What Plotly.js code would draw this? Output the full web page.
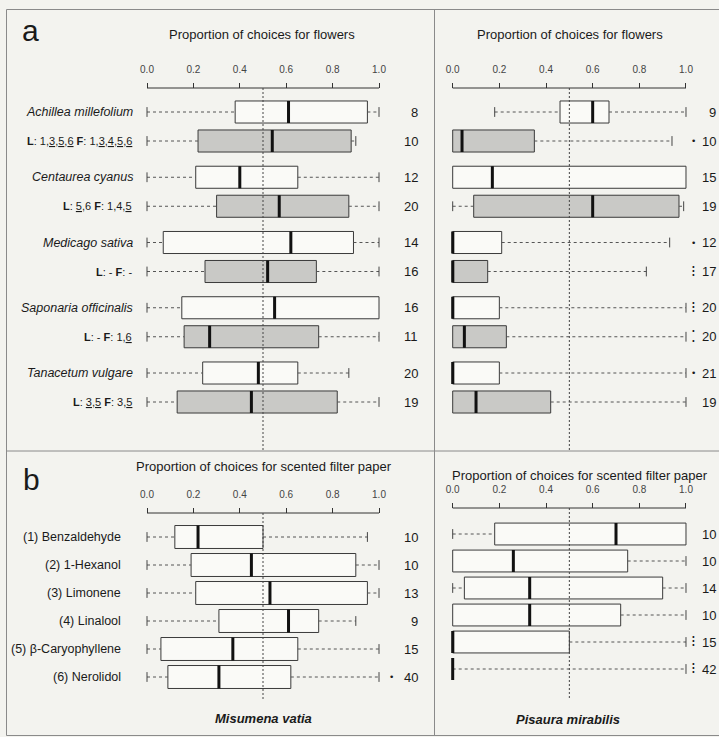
<!DOCTYPE html>
<html>
<head>
<meta charset="utf-8">
<script src="https://cdn.plot.ly/plotly-3.0.1.min.js"></script>
<style>html,body{margin:0;padding:0;background:#f3f3ef;}#chart{width:719px;height:737px;}</style>
</head>
<body>
<div id="chart"></div>
<script>
// ---------- DATA ----------
const ticks = [0, 0.2, 0.4, 0.6, 0.8, 1.0];
const tickLabels = ['0.0', '0.2', '0.4', '0.6', '0.8', '1.0'];
const chance = 0.5;

const flowerNames = ['Achillea millefolium', 'Centaurea cyanus', 'Medicago sativa', 'Saponaria officinalis', 'Tanacetum vulgare'];
const flowerPrefs = [
  '<b>L</b>: 1,<u>3</u>,<u>5</u>,<u>6</u> <b>F</b>: 1,<u>3</u>,<u>4</u>,<u>5</u>,<u>6</u>',
  '<b>L</b>: <u>5</u>,6 <b>F</b>: 1,4,<u>5</u>',
  '<b>L</b>: - <b>F</b>: -',
  '<b>L</b>: - <b>F</b>: 1,<u>6</u>',
  '<b>L</b>: <u>3</u>,<u>5</u> <b>F</b>: 3,<u>5</u>'
];
// five-number summaries: [lower whisker, Q1, median, Q3, upper whisker]
const mvFlowerStats = [[0, 0.38, 0.61, 0.95, 1.0], [0, 0.21, 0.40, 0.65, 1.0], [0, 0.07, 0.62, 0.89, 1.0], [0, 0.15, 0.55, 1.0, 1.0], [0, 0.24, 0.48, 0.65, 0.87]];
const mvPrefStats   = [[0, 0.22, 0.54, 0.88, 0.90], [0, 0.30, 0.57, 0.87, 1.0], [0, 0.25, 0.52, 0.73, 1.0], [0, 0.16, 0.27, 0.74, 1.0], [0, 0.13, 0.45, 0.82, 1.0]];
const mvFlowerN = [8, 12, 14, 16, 20];
const mvPrefN = [10, 20, 16, 11, 19];

const pmFlowerStats = [[0.18, 0.46, 0.60, 0.67, 1.0], [0, 0, 0.17, 1.0, 1.0], [0, 0, 0, 0.21, 0.93], [0, 0, 0, 0.20, 1.0], [0, 0, 0, 0.20, 1.0]];
const pmPrefStats   = [[0, 0, 0.04, 0.35, 0.94], [0, 0.09, 0.60, 0.97, 0.99], [0, 0, 0, 0.15, 0.83], [0, 0, 0.05, 0.23, 1.0], [0, 0, 0.10, 0.42, 1.0]];
const pmFlowerN = [9, 15, 12, 20, 21];
const pmPrefN = [10, 19, 17, 20, 19];
const pmFlowerSig = [0, 0, 1, 3, 1];
const pmPrefSig = [1, 0, 3, 2, 0];

const scentNames = ['(1) Benzaldehyde', '(2) 1-Hexanol', '(3) Limonene', '(4) Linalool', '(5) β-Caryophyllene', '(6) Nerolidol'];
const mvScentStats = [[0, 0.12, 0.22, 0.50, 0.95], [0, 0.19, 0.45, 0.90, 1.0], [0, 0.21, 0.53, 0.95, 1.0], [0, 0.31, 0.61, 0.74, 0.90], [0, 0.06, 0.37, 0.65, 1.0], [0, 0.09, 0.31, 0.62, 1.0]];
const mvScentN = [10, 10, 13, 9, 15, 40];
const mvScentSig = [0, 0, 0, 0, 0, 1];
const pmScentStats = [[0, 0.18, 0.70, 1.0, 1.0], [0, 0, 0.26, 0.75, 1.0], [0, 0.05, 0.33, 0.90, 1.0], [0, 0, 0.33, 0.72, 1.0], [0, 0, 0, 0.50, 1.0], [0, 0, 0, 0, 1.0]];
const pmScentN = [10, 10, 14, 10, 15, 42];
const pmScentSig = [0, 0, 0, 0, 3, 3];

// ---------- STYLE / LAYOUT ----------
const W = 719, H = 737;
const FONT = '"Liberation Sans", Arial, sans-serif';
const BG = '#f3f3ef';
const WHITE_FILL = '#fafaf7';
const GRAY_FILL = '#c9c9c6';
const sigChar = ['', '•', '⁚', '⁝'];
const sigSize = [0, 9, 15, 15];
const px = v => v / W;
const py = v => 1 - v / H;

const traces = [];
const annotations = [];
const shapes = [];

function addPanel(xa, ya, bw, rows) {
  [WHITE_FILL, GRAY_FILL].forEach(f => {
    const rr = rows.filter(r => r.fill === f);
    if (!rr.length) return;
    traces.push({
      type: 'box', orientation: 'h', xaxis: xa, yaxis: ya,
      y: rr.map(r => r.pos),
      q1: rr.map(r => r.s[1]), median: rr.map(r => r.s[2]), q3: rr.map(r => r.s[3]),
      lowerfence: rr.map(r => r.s[1]), upperfence: rr.map(r => r.s[3]),
      width: bw, fillcolor: f, line: {color: '#3a3a3a', width: 1},
      whiskerwidth: 0, boxpoints: false, hoverinfo: 'skip', showlegend: false
    });
  });
  const wx = [], wy = [], cx = [], cy = [], mx = [], my = [];
  rows.forEach(r => {
    const [lf, q1, md, q3, uf] = r.s;
    if (lf < q1) { wx.push(lf, q1, null); wy.push(r.pos, r.pos, null); cx.push(lf); cy.push(r.pos); }
    if (uf > q3) { wx.push(q3, uf, null); wy.push(r.pos, r.pos, null); cx.push(uf); cy.push(r.pos); }
    mx.push(md, md, null); my.push(r.pos - bw / 2, r.pos + bw / 2, null);
  });
  traces.push({type: 'scatter', mode: 'lines', xaxis: xa, yaxis: ya, x: wx, y: wy,
    line: {color: '#555', width: 1, dash: '3px,3px'}, hoverinfo: 'skip', showlegend: false, cliponaxis: false});
  traces.push({type: 'scatter', mode: 'markers', xaxis: xa, yaxis: ya, x: cx, y: cy,
    marker: {symbol: 'line-ns', size: 7, color: '#444', line: {width: 1, color: '#444'}},
    hoverinfo: 'skip', showlegend: false, cliponaxis: false});
  traces.push({type: 'scatter', mode: 'lines', xaxis: xa, yaxis: ya, x: mx, y: my,
    line: {color: '#111', width: 3}, hoverinfo: 'skip', showlegend: false, cliponaxis: false});
}

const PAIR = 2.25;
function flowerRows(whiteStats, grayStats) {
  const rows = [];
  whiteStats.forEach((s, i) => rows.push({pos: i * PAIR, s: s, fill: WHITE_FILL}));
  grayStats.forEach((s, i) => rows.push({pos: i * PAIR + 1, s: s, fill: GRAY_FILL}));
  return rows;
}
function scentRows(stats) { return stats.map((s, i) => ({pos: i, s: s, fill: WHITE_FILL})); }

addPanel('x', 'y', 0.76, flowerRows(mvFlowerStats, mvPrefStats));
addPanel('x2', 'y2', 0.76, flowerRows(pmFlowerStats, pmPrefStats));
addPanel('x3', 'y3', 0.82, scentRows(mvScentStats));
addPanel('x4', 'y4', 0.81, scentRows(pmScentStats));

const LX0 = 147, LX1 = 379, RX0 = 452.7, RX1 = 686;
const PAD = 0.04;
function xdom(a, b) { const w = b - a; return [px(a - PAD * w), px(b + PAD * w)]; }
function xaxisDef(a, b, basePx) {
  return {domain: xdom(a, b), range: [-PAD, 1 + PAD], anchor: 'free', position: py(basePx), side: 'top',
    tickvals: ticks, ticktext: tickLabels, ticks: 'outside', ticklen: 5, tickwidth: 1, tickcolor: '#333',
    showline: false, showgrid: false, zeroline: false, ticklabelstandoff: 6,
    tickfont: {family: FONT, size: 10, color: '#444'}, fixedrange: true};
}
const BASE_A = 88, BASE_BL = 513, BASE_BR = 508;

function axisDecor(xr, basePx, endPx) {
  shapes.push({type: 'line', xref: xr, yref: 'paper', x0: ticks[0], x1: ticks[ticks.length - 1], y0: py(basePx), y1: py(basePx), line: {color: '#333', width: 1}});
  shapes.push({type: 'line', xref: xr, yref: 'paper', x0: chance, x1: chance, y0: py(basePx), y1: py(endPx), line: {color: '#444', width: 1, dash: '2px,2px'}});
}
axisDecor('x', BASE_A, 451);
axisDecor('x2', BASE_A, 451);
axisDecor('x3', BASE_BL, 700);
axisDecor('x4', BASE_BR, 698);

const frameLine = {color: '#8a8a8a', width: 1};
shapes.push({type: 'rect', xref: 'paper', yref: 'paper', x0: px(6.5), x1: px(722), y0: py(9.5), y1: py(735.5), line: frameLine});
shapes.push({type: 'line', xref: 'paper', yref: 'paper', x0: px(434.5), x1: px(434.5), y0: py(9.5), y1: py(735.5), line: frameLine});
shapes.push({type: 'line', xref: 'paper', yref: 'paper', x0: px(6.5), x1: px(722), y0: py(451), y1: py(451), line: frameLine});

function txt(text, xp, yref, yv, anchor, size, family) {
  annotations.push({text: text, xref: 'paper', x: xp, yref: yref, y: yv, xanchor: anchor, yanchor: 'middle',
    showarrow: false, font: {family: family || FONT, size: size, color: '#1a1a1a'}});
}
function sig(s, xp, yref, yv) { if (s) txt(sigChar[s], xp, yref, yv, 'center', sigSize[s], '"DejaVu Sans", sans-serif'); }

flowerNames.forEach((n, i) => txt('<i>' + n + '</i>', px(135), 'y', i * PAIR, 'right', 12.5));
flowerPrefs.forEach((n, i) => txt(n, px(134), 'y', i * PAIR + 1, 'right', 11));
mvFlowerN.forEach((n, i) => txt(String(n), px(420), 'y', i * PAIR, 'right', 13));
mvPrefN.forEach((n, i) => txt(String(n), px(420), 'y', i * PAIR + 1, 'right', 13));
pmFlowerN.forEach((n, i) => txt(String(n), px(718), 'y2', i * PAIR, 'right', 13));
pmPrefN.forEach((n, i) => txt(String(n), px(718), 'y2', i * PAIR + 1, 'right', 13));
pmFlowerSig.forEach((s, i) => sig(s, px(693), 'y2', i * PAIR));
pmPrefSig.forEach((s, i) => sig(s, px(693), 'y2', i * PAIR + 1));

scentNames.forEach((n, i) => txt(n, px(123), 'y3', i, 'right', 12.5));
mvScentN.forEach((n, i) => txt(String(n), px(420), 'y3', i, 'right', 13));
pmScentN.forEach((n, i) => txt(String(n), px(718), 'y4', i, 'right', 13));
mvScentSig.forEach((s, i) => sig(s, px(391), 'y3', i));
pmScentSig.forEach((s, i) => sig(s, px(693), 'y4', i));

txt('a', px(30), 'paper', py(30), 'center', 30);
txt('b', px(31), 'paper', py(479), 'center', 30);
txt('Proportion of choices for flowers', px(262), 'paper', py(34), 'center', 13);
txt('Proportion of choices for flowers', px(570), 'paper', py(34), 'center', 13);
txt('Proportion of choices for scented filter paper', px(264), 'paper', py(466), 'center', 13);
txt('Proportion of choices for scented filter paper', px(580), 'paper', py(476), 'center', 13);
txt('<b><i>Misumena vatia</i></b>', px(263), 'paper', py(718), 'center', 13);
txt('<b><i>Pisaura mirabilis</i></b>', px(568), 'paper', py(719), 'center', 13);

const layout = {
  width: W, height: H, margin: {l: 0, r: 0, t: 0, b: 0},
  paper_bgcolor: BG, plot_bgcolor: 'rgba(0,0,0,0)', showlegend: false,
  font: {family: FONT},
  xaxis: xaxisDef(LX0, LX1, BASE_A),
  xaxis2: xaxisDef(RX0, RX1, BASE_A),
  xaxis3: xaxisDef(LX0, LX1, BASE_BL),
  xaxis4: xaxisDef(RX0, RX1, BASE_BR),
  yaxis:  {domain: [py(431), py(83)], range: [11, -1], anchor: 'x', visible: false, fixedrange: true},
  yaxis2: {domain: [py(431), py(83)], range: [11, -1], anchor: 'x2', visible: false, fixedrange: true},
  yaxis3: {domain: [py(705), py(509)], range: [6, -1], anchor: 'x3', visible: false, fixedrange: true},
  yaxis4: {domain: [py(696), py(507)], range: [6, -1], anchor: 'x4', visible: false, fixedrange: true},
  shapes: shapes, annotations: annotations
};

Plotly.newPlot('chart', traces, layout, {displayModeBar: false, staticPlot: true});
</script>
</body>
</html>
